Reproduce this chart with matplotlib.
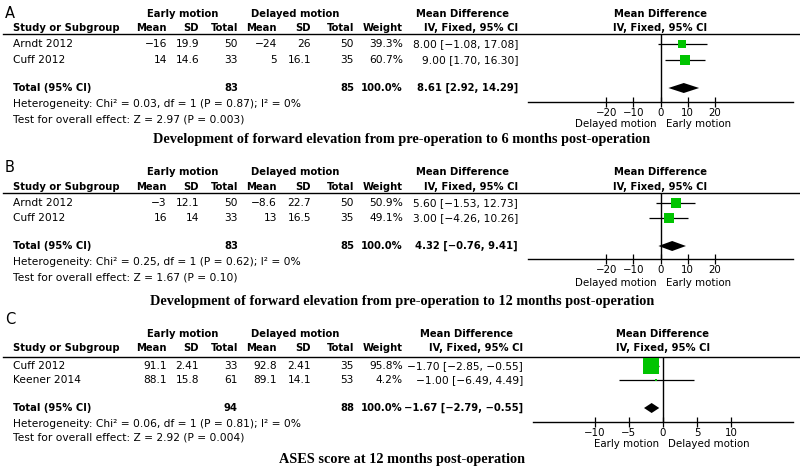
import matplotlib
matplotlib.use("Agg")
import matplotlib.pyplot as plt

# ---- data ----
panel_labels = ["A", "B", "C"]
titles = ["Development of forward elevation from pre-operation to 6 months post-operation",
          "Development of forward elevation from pre-operation to 12 months post-operation",
          "ASES score at 12 months post-operation"]

studies_a = ["Arndt 2012", "Cuff 2012"]
early_mean_a = [-16, 14]
early_sd_a = [19.9, 14.6]
early_n_a = [50, 33]
delayed_mean_a = [-24, 5]
delayed_sd_a = [26, 16.1]
delayed_n_a = [50, 35]
weight_a = [39.3, 60.7]
md_a = [8.00, 9.00]
lo_a = [-1.08, 1.70]
hi_a = [17.08, 16.30]
total_a = [8.61, 2.92, 14.29]
chi_a, p_het_a, z_a, p_z_a = "0.03", "0.87", "2.97", "0.003"

studies_b = ["Arndt 2012", "Cuff 2012"]
early_mean_b = [-3, 16]
early_sd_b = [12.1, 14]
early_n_b = [50, 33]
delayed_mean_b = [-8.6, 13]
delayed_sd_b = [22.7, 16.5]
delayed_n_b = [50, 35]
weight_b = [50.9, 49.1]
md_b = [5.60, 3.00]
lo_b = [-1.53, -4.26]
hi_b = [12.73, 10.26]
total_b = [4.32, -0.76, 9.41]
chi_b, p_het_b, z_b, p_z_b = "0.25", "0.62", "1.67", "0.10"

studies_c = ["Cuff 2012", "Keener 2014"]
early_mean_c = [91.1, 88.1]
early_sd_c = [2.41, 15.8]
early_n_c = [33, 61]
delayed_mean_c = [92.8, 89.1]
delayed_sd_c = [2.41, 14.1]
delayed_n_c = [35, 53]
weight_c = [95.8, 4.2]
md_c = [-1.70, -1.00]
lo_c = [-2.85, -6.49]
hi_c = [-0.55, 4.49]
total_c = [-1.67, -2.79, -0.55]
chi_c, p_het_c, z_c, p_z_c = "0.06", "0.81", "2.92", "0.004"

ticks_ab = [-20, -10, 0, 10, 20]
ticks_c = [-10, -5, 0, 5, 10]
side_ab = ["Delayed motion", "Early motion"]
side_c = ["Early motion", "Delayed motion"]

GREEN = "#00c400"
FS = 7.7      # normal table text
FSB = 7.2     # bold headers
FSA = 7.4     # axis text
SANS = "DejaVu Sans"


def num(v):
    return f"{v:g}".replace("-", "\u2212")


def ci(est, lo, hi):
    return f"{est:.2f} [{lo:.2f}, {hi:.2f}]".replace("-", "\u2212")


W, H = 800, 469
fig = plt.figure(figsize=(8, 4.69), dpi=100)
bg = fig.add_axes([0, 0, 1, 1])
bg.set_xlim(0, W)
bg.set_ylim(H, 0)
bg.axis("off")


def t(x, y, s, ha="left", bold=False, size=None, **kw):
    if size is None:
        size = FSB if bold else FS
    bg.text(x, y, s, ha=ha, va="center", fontsize=size, family=SANS,
            fontweight="bold" if bold else "normal", **kw)


def panel(label, title, lay, studies, em, esd, en, dm, dsd, dn, wt, md, lo, hi,
          tot, het, xlim, ticks, sides, ax_l, ax_r, md_x):
    # table
    t(5, lay["label"], label, size=10.5)
    t(183, lay["grp"], "Early motion", ha="center", bold=True)
    t(295, lay["grp"], "Delayed motion", ha="center", bold=True)
    t(md_x - 56, lay["grp"], "Mean Difference", ha="center", bold=True)
    hy = lay["hdr"]
    t(13, hy, "Study or Subgroup", bold=True)
    cols = [167, 199, 238, 277, 311, 354, 403]
    for x, s in zip(cols, ["Mean", "SD", "Total", "Mean", "SD", "Total", "Weight"]):
        t(x, hy, s, ha="right", bold=True)
    t(md_x, hy, "IV, Fixed, 95% CI", ha="right", bold=True)
    bg.plot([3, W], [lay["line"], lay["line"]], color="black", lw=1.0)
    for i, name in enumerate(studies):
        y = lay["rows"][i]
        t(13, y, name)
        vals = [num(em[i]), num(esd[i]), str(en[i]), num(dm[i]), num(dsd[i]),
                str(dn[i]), f"{wt[i]:.1f}%"]
        for x, s in zip(cols, vals):
            t(x, y, s, ha="right")
        t(md_x, y, ci(md[i], lo[i], hi[i]), ha="right")
    y = lay["total"]
    t(13, y, "Total (95% CI)", bold=True)
    t(cols[2], y, str(sum(en)), ha="right", bold=True)
    t(cols[5], y, str(sum(dn)), ha="right", bold=True)
    t(cols[6], y, "100.0%", ha="right", bold=True)
    t(md_x, y, ci(*tot), ha="right", bold=True)
    chi, ph, z, pz = het
    t(13, lay["het"], f"Heterogeneity: Chi\u00b2 = {chi}, df = 1 (P = {ph}); I\u00b2 = 0%")
    t(13, lay["test"], f"Test for overall effect: Z = {z} (P = {pz})")
    bg.text(402, lay["title"], title, ha="center", va="center", fontsize=10.3,
            family="Liberation Serif", fontweight="bold")

    # forest plot
    top, bot = lay["line"], lay["axis"]
    ax = fig.add_axes([ax_l / W, 1 - bot / H, (ax_r - ax_l) / W, (bot - top) / H])
    ax.patch.set_alpha(0)
    ax.set_xlim(*xlim)
    ax.set_ylim(bot, top)
    for sp in ["top", "right", "left"]:
        ax.spines[sp].set_visible(False)
    ax.spines["bottom"].set_linewidth(1.0)
    ax.set_yticks([])
    ax.set_xticks(ticks)
    ax.set_xticklabels([num(v) for v in ticks], family=SANS)
    ax.tick_params(axis="x", direction="inout", length=7, width=0.9, labelsize=FSA, pad=0.5)
    ax.axvline(0, color="black", lw=1.0)
    for i in range(len(md)):
        y = lay["rows"][i]
        ax.hlines(y, lo[i], hi[i], color="black", lw=0.9, zorder=2)
        side = (2 + 14.5 * wt[i] / 100) * 0.72
        ax.plot(md[i], y, "s", color=GREEN, markersize=side, markeredgewidth=0, zorder=3)
    est, tl, th = tot
    y = lay["total"]
    ax.fill([tl, est, th, est], [y, y - 5, y, y + 5], color="black", lw=0, zorder=3)
    ax.text(0.5, 1.0 + (top - lay["grp"]) / (bot - top), "Mean Difference", transform=ax.transAxes,
            ha="center", va="center", fontsize=FSB, family=SANS, fontweight="bold")
    ax.text(0.5, 1.0 + (top - lay["hdr"]) / (bot - top), "IV, Fixed, 95% CI", transform=ax.transAxes,
            ha="center", va="center", fontsize=FSB, family=SANS, fontweight="bold")
    zx = ax_l + (0 - xlim[0]) / (xlim[1] - xlim[0]) * (ax_r - ax_l)
    t(zx - 4, lay["dir"], sides[0], ha="right", size=FSA)
    t(zx + 5, lay["dir"], sides[1], ha="left", size=FSA)


lay_a = dict(label=13, grp=14, hdr=28, line=34.5, rows=[44, 60], total=88, het=104,
             test=119, title=140, axis=102, dir=124)
lay_b = dict(label=167, grp=172, hdr=187, line=193, rows=[203, 218], total=246, het=262,
             test=278, title=301, axis=259, dir=283)
lay_c = dict(label=320, grp=334, hdr=348, line=357, rows=[366, 380], total=408, het=424,
             test=438, title=460, axis=422, dir=444)

panel(panel_labels[0], titles[0], lay_a, studies_a, early_mean_a, early_sd_a, early_n_a,
      delayed_mean_a, delayed_sd_a, delayed_n_a, weight_a, md_a, lo_a, hi_a, total_a,
      (chi_a, p_het_a, z_a, p_z_a), (-49, 49), ticks_ab, side_ab, 528, 793, 518)
panel(panel_labels[1], titles[1], lay_b, studies_b, early_mean_b, early_sd_b, early_n_b,
      delayed_mean_b, delayed_sd_b, delayed_n_b, weight_b, md_b, lo_b, hi_b, total_b,
      (chi_b, p_het_b, z_b, p_z_b), (-49, 49), ticks_ab, side_ab, 528, 793, 518)
panel(panel_labels[2], titles[2], lay_c, studies_c, early_mean_c, early_sd_c, early_n_c,
      delayed_mean_c, delayed_sd_c, delayed_n_c, weight_c, md_c, lo_c, hi_c, total_c,
      (chi_c, p_het_c, z_c, p_z_c), (-19.1, 19.1), ticks_c, side_c, 533, 793, 523)

fig.savefig("out.png", dpi=100)
